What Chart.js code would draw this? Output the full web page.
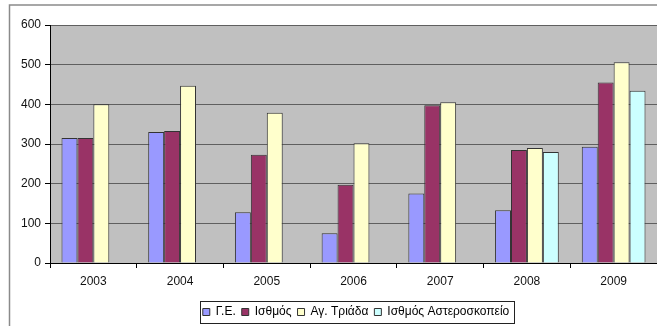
<!DOCTYPE html>
<html>
<head>
<meta charset="utf-8">
<script src="https://cdn.jsdelivr.net/npm/chart.js@4"></script>
<style>
  html, body { margin: 0; padding: 0; background: #fff; }
  #wrap { width: 657px; height: 326px; }
</style>
</head>
<body>
<div id="wrap"><canvas id="chart" width="657" height="326"></canvas></div>
<script>
// Years on the x axis
const years = ['2003', '2004', '2005', '2006', '2007', '2008', '2009'];

// Series values
const geValues = [315, 330, 128, 75, 175, 133, 293];
const isthmosValues = [315, 333, 273, 197, 398, 285, 455];
const agTriadaValues = [400, 447, 379, 302, 405, 290, 506];
const asteroskopeioValues = [null, null, null, null, null, 280, 434];

const seriesNames = ['Γ.Ε.', 'Ισθμός', 'Αγ. Τριάδα', 'Ισθμός Αστεροσκοπείο'];

// y axis ticks
const yMin = 0;
const yMax = 600;
const yStep = 100;

const fontFamily = '"Liberation Sans", Arial, sans-serif';

// Grey plot area, outer frame and legend frame
const decorPlugin = {
    id: 'decor',
    afterLayout(chart) {
        // legend sits right of centre and a bit lower in the original
        const legend = chart.legend;
        const d = 356 - (legend.left + legend.right) / 2;
        legend.left += d;
        legend.right += d;
        legend.top += 2;
        legend.bottom += 2;
    },
    beforeDraw(chart) {
        const ctx = chart.ctx;
        const a = chart.chartArea;
        ctx.save();
        ctx.fillStyle = '#c0c0c0';
        ctx.fillRect(a.left, a.top, 657 - a.left, a.bottom - a.top);
        // outer chart frame (cropped on right and bottom)
        ctx.strokeStyle = '#8a8a8a';
        ctx.lineWidth = 1.5;
        ctx.strokeRect(9.5, 5, 700, 400);
        ctx.restore();
    },
    afterDraw(chart) {
        const boxes = chart.legend.legendHitBoxes;
        if (!boxes || !boxes.length) return;
        let l = Infinity, r = -Infinity, t = Infinity, b = -Infinity;
        boxes.forEach(function(h) {
            l = Math.min(l, h.left);
            r = Math.max(r, h.left + h.width);
            t = Math.min(t, h.top);
            b = Math.max(b, h.top + h.height);
        });
        const ctx = chart.ctx;
        ctx.save();
        ctx.strokeStyle = '#222';
        ctx.lineWidth = 1;
        ctx.strokeRect(Math.round(l - 3) + 0.5, Math.round(t - 5) + 0.5,
                       Math.round(r - l + 8), Math.round(b - t + 10));
        ctx.restore();
    }
};

function makeDataset(label, data, color) {
    return {
        label: label,
        data: data,
        backgroundColor: color,
        borderColor: '#333333',
        borderWidth: 1,
        categoryPercentage: 0.735,
        barPercentage: 1.0
    };
}

const ctx = document.getElementById('chart').getContext('2d');
new Chart(ctx, {
    type: 'bar',
    data: {
        labels: years,
        datasets: [
            makeDataset(seriesNames[0], geValues, '#9999ff'),
            makeDataset(seriesNames[1], isthmosValues, '#993366'),
            makeDataset(seriesNames[2], agTriadaValues, '#ffffcc'),
            makeDataset(seriesNames[3], asteroskopeioValues, '#ccffff')
        ]
    },
    options: {
        responsive: false,
        animation: false,
        devicePixelRatio: 1,
        layout: {
            padding: { top: 25, left: 0, right: -2, bottom: 0 }
        },
        plugins: {
            legend: {
                position: 'bottom',
                labels: {
                    boxWidth: 7,
                    boxHeight: 7,
                    padding: 6,
                    color: '#000',
                    font: { family: fontFamily, size: 12 }
                }
            },
            tooltip: { enabled: false }
        },
        scales: {
            x: {
                grid: {
                    drawOnChartArea: false,
                    drawTicks: true,
                    tickLength: 5,
                    tickColor: '#000'
                },
                border: { color: '#000', width: 1 },
                ticks: {
                    color: '#111',
                    padding: 6,
                    font: { family: fontFamily, size: 12 }
                },
                afterFit: function(scale) {
                    scale.height = 35;
                }
            },
            y: {
                min: yMin,
                max: yMax,
                grid: {
                    color: '#5f5f5f',
                    lineWidth: 1,
                    tickLength: 5,
                    tickColor: '#000'
                },
                border: { color: '#000', width: 1 },
                ticks: {
                    stepSize: yStep,
                    color: '#111',
                    padding: 4,
                    font: { family: fontFamily, size: 12 }
                },
                afterFit: function(scale) {
                    scale.width = 50;
                }
            }
        }
    },
    plugins: [decorPlugin]
});
</script>
</body>
</html>
